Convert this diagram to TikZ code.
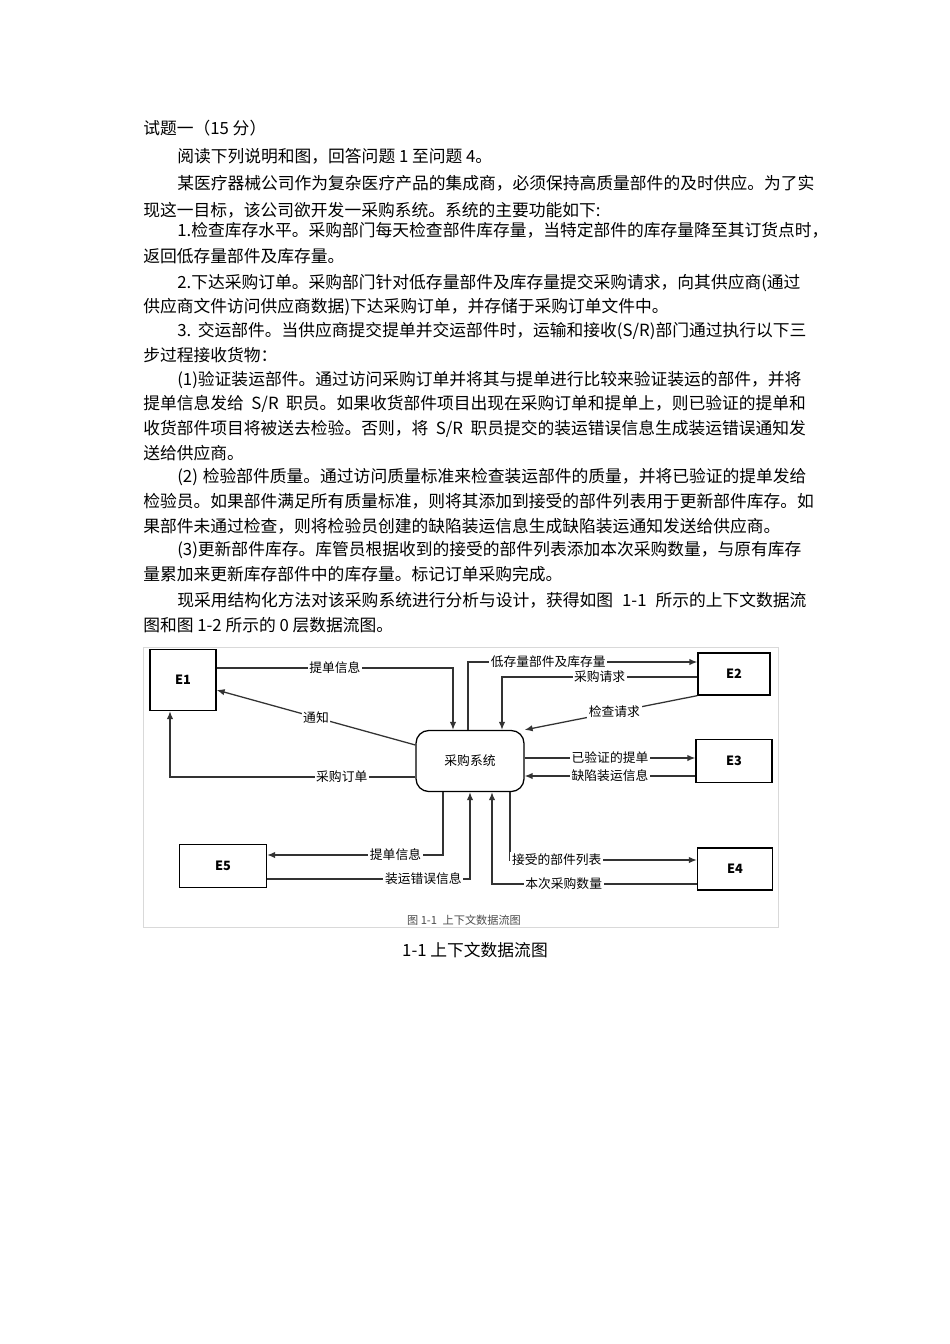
\documentclass[tikz,border=0pt]{standalone}
\usepackage{fontspec}
\setmainfont{Noto Sans CJK SC}
\XeTeXlinebreaklocale "zh"
\XeTeXlinebreakskip=0pt plus 2pt
\usetikzlibrary{arrows.meta}
\newcommand{\fa}[1]{\hbox to 415pt{#1}}
\newcommand{\fb}[1]{\hbox to 394pt{#1}}
\begin{document}
\begin{tikzpicture}[x=0.6263pt,y=-0.6263pt,
  txt/.style={anchor=west,inner sep=0pt,font=\fontsize{10.5pt}{12pt}\selectfont},
  ent/.style={draw,thick,inner sep=0pt,font=\fontsize{8pt}{9pt}\selectfont\bfseries},
  lab/.style={fill=white,inner sep=1pt,font=\fontsize{8pt}{9pt}\selectfont},
  fl/.style={thick,draw=black!80,-{Latex[length=5pt,width=4pt]}},
  ln/.style={thick,draw=black!80}]
\useasboundingbox (0,0) rectangle (950,1344);
\fill[white] (0,0) rectangle (950,1344);
\node[txt] at (143,128) {试题一（15 分）};
\node[txt] at (177,156) {阅读下列说明和图，回答问题 1 至问题 4。};
\node[txt] at (177,183) {\fb{某医疗器械公司作为复杂医疗产品的集成商，必须保持高质量部件的及时供应。为了实}};
\node[txt] at (143,210) {现这一目标，该公司欲开发一采购系统。系统的主要功能如下:};
\node[txt] at (177,230) {\fb{1.检查库存水平。采购部门每天检查部件库存量，当特定部件的库存量降至其订货点时，}};
\node[txt] at (143,256) {返回低存量部件及库存量。};
\node[txt] at (177,283) {\fb{2.下达采购订单。采购部门针对低存量部件及库存量提交采购请求，向其供应商(通过}};
\node[txt] at (143,307) {供应商文件访问供应商数据)下达采购订单，并存储于采购订单文件中。};
\node[txt] at (177,331) {\fb{3. 交运部件。当供应商提交提单并交运部件时，运输和接收(S/R)部门通过执行以下三}};
\node[txt] at (143,355) {步过程接收货物：};
\node[txt] at (177,380) {\fb{(1)验证装运部件。通过访问采购订单并将其与提单进行比较来验证装运的部件，并将}};
\node[txt] at (143,404) {\fa{提单信息发给 S/R 职员。如果收货部件项目出现在采购订单和提单上，则已验证的提单和}};
\node[txt] at (143,429) {\fa{收货部件项目将被送去检验。否则，将 S/R 职员提交的装运错误信息生成装运错误通知发}};
\node[txt] at (143,453) {送给供应商。};
\node[txt] at (177,477) {\fb{(2) 检验部件质量。通过访问质量标准来检查装运部件的质量，并将已验证的提单发给}};
\node[txt] at (143,501) {\fa{检验员。如果部件满足所有质量标准，则将其添加到接受的部件列表用于更新部件库存。如}};
\node[txt] at (143,526) {果部件未通过检查，则将检验员创建的缺陷装运信息生成缺陷装运通知发送给供应商。};
\node[txt] at (177,550) {\fb{(3)更新部件库存。库管员根据收到的接受的部件列表添加本次采购数量，与原有库存}};
\node[txt] at (143,574) {量累加来更新库存部件中的库存量。标记订单采购完成。};
\node[txt] at (177,600) {\fb{现采用结构化方法对该采购系统进行分析与设计，获得如图 1-1 所示的上下文数据流}};
\node[txt] at (143,625) {图和图 1-2 所示的 0 层数据流图。};
% diagram
\draw[black!15] (143,647) rectangle (778,927);
\node[ent,minimum width=66*0.6263pt,minimum height=61*0.6263pt] (E1) at (183,680) {E1};
\node[ent,minimum width=72*0.6263pt,minimum height=42*0.6263pt] (E2) at (734,674) {E2};
\node[ent,minimum width=76*0.6263pt,minimum height=43*0.6263pt] (E3) at (734,761) {E3};
\node[ent,minimum width=75*0.6263pt,minimum height=42*0.6263pt] (E4) at (735,869) {E4};
\node[ent,minimum width=87*0.6263pt,minimum height=43*0.6263pt] (E5) at (223,866) {E5};
\node[draw,thick,rounded corners=8pt,minimum width=108*0.6263pt,minimum height=61*0.6263pt,font=\fontsize{8pt}{9pt}\selectfont] (S) at (470,761) {采购系统};
\coordinate (a1) at (E1.east |- 0,668);
\draw[fl] (a1) -- (453,668) node[lab,pos=0.5] {提单信息} -- (S.north -| 453,0);
\draw[fl] (S.north -| 468,0) -- (468,662) -- (E2.west |- 0,662) node[lab,pos=0.35] {低存量部件及库存量};
\draw[fl] (E2.west |- 0,677) -- (502,677) node[lab,pos=0.5] {采购请求} -- (S.north -| 502,0);
\draw[fl] (E2.south west) -- (S.north east) node[lab,pos=0.48] {检查请求};
\draw[fl] (S.west |- 0,745) -- (E1.east |- 0,690) node[lab,pos=0.5] {通知};
\draw[fl] (S.west |- 0,777) -- (170,777) node[lab,pos=0.3] {采购订单} -- (E1.south -| 170,0);
\draw[fl] (S.east |- 0,758) -- (E3.west |- 0,758) node[lab,pos=0.5] {已验证的提单};
\draw[fl] (E3.west |- 0,776) -- (S.east |- 0,776) node[lab,pos=0.5] {缺陷装运信息};
\draw[fl] (S.south -| 443,0) -- (443,855) -- (E5.east |- 0,855) node[lab,pos=0.27] {提单信息};
\draw[fl] (E5.east |- 0,879) -- (470,879) node[lab,pos=0.77] {装运错误信息} -- (S.south -| 470,0);
\draw[fl] (E4.west |- 0,884) -- (492,884) node[lab,pos=0.65] {本次采购数量} -- (S.south -| 492,0);
\draw[fl] (S.south -| 510,0) -- (510,860) -- (E4.west |- 0,860) node[lab,pos=0.25] {接受的部件列表};
\node[font=\fontsize{7pt}{8pt}\selectfont,text=black!70] (cap) at (464,920) {图 1-1\enspace 上下文数据流图};
\node[font=\fontsize{10.5pt}{12pt}\selectfont] (cap2) at (475,950) {1-1 上下文数据流图};
\end{tikzpicture}
\end{document}
